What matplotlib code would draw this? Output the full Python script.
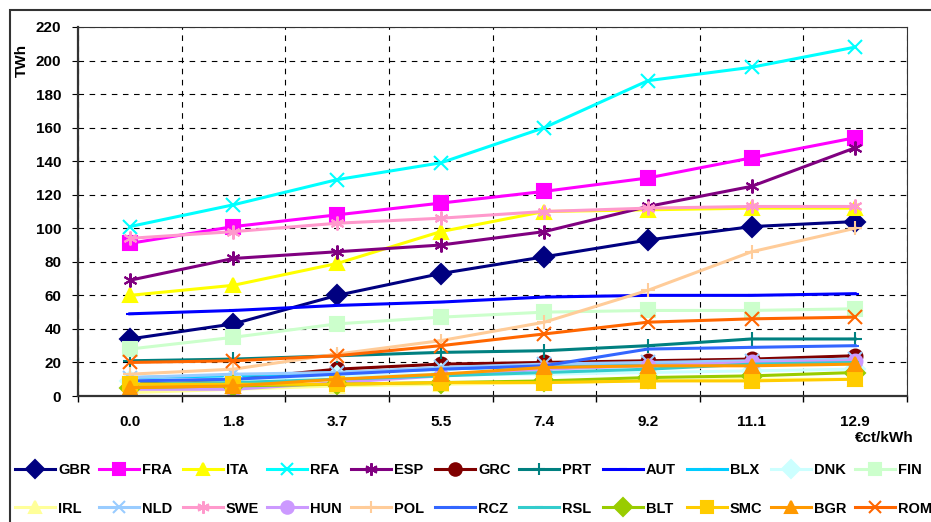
import numpy as np
import matplotlib
matplotlib.use("Agg")
import matplotlib.pyplot as plt
from matplotlib.patches import Rectangle

plt.rcParams['font.family'] = ['Liberation Sans', 'DejaVu Sans']
plt.rcParams['font.weight'] = 'bold'

categories = ["0.0", "1.8", "3.7", "5.5", "7.4", "9.2", "11.1", "12.9"]

names = ["GBR", "FRA", "ITA", "RFA", "ESP", "GRC", "PRT", "AUT", "BLX", "DNK", "FIN",
         "IRL", "NLD", "SWE", "HUN", "POL", "RCZ", "RSL", "BLT", "SMC", "BGR", "ROM"]

gbr = [34, 43, 60, 73, 83, 93, 101, 104]
fra = [91, 101, 108, 115, 122, 130, 142, 154]
ita = [60, 66, 79, 98, 110, 111, 112, 112]
rfa = [101, 114, 129, 139, 160, 188, 196, 208]
esp = [69, 82, 86, 90, 98, 113, 125, 148]
grc = [8, 10, 16, 19, 20, 21, 22, 24]
prt = [21, 22, 24, 26, 27, 30, 34, 34]
aut = [49, 51, 54, 56, 59, 60, 60, 61]
blx = [11, 12, 14, 16, 18, 19, 20, 20]
dnk = [9, 10, 12, 13, 13, 14, 15, 16]
fin = [28, 35, 43, 47, 50, 51, 51, 52]
irl = [2, 4, 6, 7, 8, 9, 10, 10]
nld = [11, 13, 14, 17, 19, 20, 21, 22]
swe = [94, 98, 103, 106, 110, 112, 113, 113]
hun = [4, 4, 8, 12, 16, 18, 20, 21]
pol = [13, 16, 25, 33, 44, 63, 86, 100]
rcz = [9, 10, 13, 16, 18, 28, 29, 30]
rsl = [7, 8, 10, 12, 14, 16, 19, 20]
blt = [5, 6, 7, 8, 9, 11, 12, 14]
smc = [7, 7, 7, 8, 8, 9, 9, 10]
bgr = [5, 6, 10, 13, 17, 18, 18, 19]
rom = [20, 21, 24, 30, 37, 44, 46, 47]

series = [gbr, fra, ita, rfa, esp, grc, prt, aut, blx, dnk, fin,
          irl, nld, swe, hun, pol, rcz, rsl, blt, smc, bgr, rom]

colors = ["#000080", "#FF00FF", "#FFFF00", "#00FFFF", "#800080", "#800000", "#008080",
          "#0000FF", "#00CCFF", "#CCFFFF", "#CCFFCC",
          "#FFFF99", "#99CCFF", "#FF99CC", "#CC99FF", "#FFCC99", "#3366FF", "#33CCCC",
          "#99CC00", "#FFCC00", "#FF9900", "#FF6600"]
star = (6, 2, 0)
markers = ["D", "s", "^", "x", star, "o", "+", "_", "_", "D", "s",
           "^", "x", star, "o", "+", "_", "_", "D", "s", "^", "x"]

W, H = 931, 522
fig = plt.figure(figsize=(W / 100, H / 100), dpi=100)
ax = fig.add_axes([78 / W, 1 - 396 / H, (907 - 78) / W, (396 - 27) / H])

x = np.arange(len(categories))
lines = []
for name, vals, c, m in zip(names, series, colors, markers):
    ms = 6 if m == "_" else 10
    ln, = ax.plot(x, vals, color=c, lw=2.2, marker=m, ms=ms, mfc=c, mec=c,
                  mew=1.5, label=name)
    lines.append(ln)

ax.set_xlim(-0.5, len(categories) - 0.5)
ax.set_ylim(0, 220)
ax.set_yticks(np.arange(0, 221, 20))
ax.set_xticks(np.arange(-0.5, len(categories), 1))
ax.set_xticklabels([])
ax.set_xticks(x, minor=True)
ax.set_xticklabels(categories, minor=True)
ax.tick_params(axis='x', which='minor', length=0, pad=14, labelsize=11)
ax.tick_params(axis='x', which='major', length=4, direction='out', width=1)
ax.tick_params(axis='y', length=4, direction='out', pad=8, labelsize=11)

ax.grid(True, which='major', linestyle=(0, (5, 5)), color='black', linewidth=0.8)
ax.set_axisbelow(True)
for s in ['left', 'bottom']:
    ax.spines[s].set_linewidth(1.6)
    ax.spines[s].set_color('#333333')
for s in ['top', 'right']:
    ax.spines[s].set_linewidth(0.8)
    ax.spines[s].set_color('#333333')

fig.text(22 / W, 1 - 60 / H, "TWh", rotation=90, ha='center', va='center',
         fontsize=11, fontweight='bold')
fig.text(855 / W, 1 - 438 / H, "€ct/kWh", ha='left', va='center',
         fontsize=11, fontweight='bold')

# legend: 11 columns, two rows, fixed column pitch
ncol = 11
for j in range(ncol):
    hs = [lines[j], lines[j + ncol]]
    fig.legend(handles=hs, labels=[h.get_label() for h in hs], loc='center left',
               bbox_to_anchor=((15 + 84 * j) / W, 1 - 489.5 / H), frameon=False,
               borderpad=0, borderaxespad=0, handlelength=2.75, handletextpad=0.2,
               labelspacing=1.65, markerscale=0.9,
               prop={'weight': 'bold', 'size': 10.5})

fig.add_artist(Rectangle((10 / W, -0.1), 1.5, 1 - 10 / H + 0.1, transform=fig.transFigure,
                         fill=False, lw=1.5, ec='#333333'))

fig.savefig("out.png", dpi=100)
